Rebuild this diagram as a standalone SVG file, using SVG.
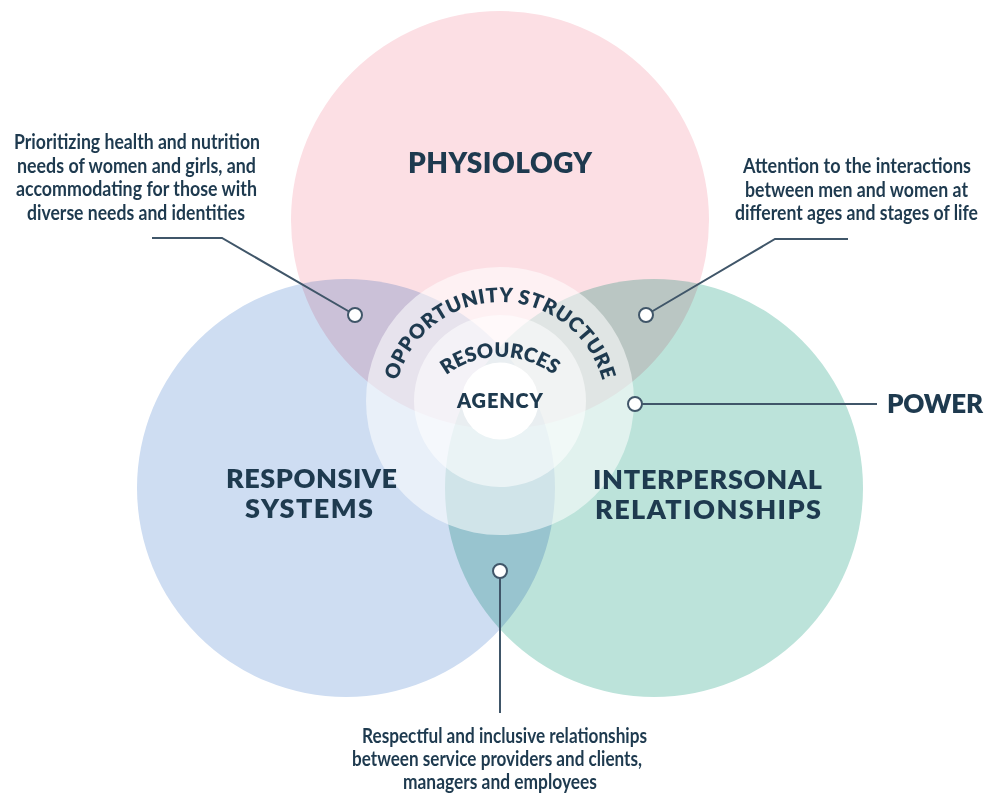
<svg xmlns="http://www.w3.org/2000/svg" width="989" height="795" viewBox="0 0 989 795">
  <style>
    .set { mix-blend-mode: multiply; }
    .title { font-family: Lato, "Noto Sans", sans-serif; font-weight: 800; fill: #1E3A4F; }
    .ring { font-family: Lato, "Noto Sans", sans-serif; font-weight: 800; fill: #1E3A4F; font-size: 20px; }
    .note { font-family: Lato, "Noto Sans", sans-serif; font-weight: 700; fill: #1E3A4F; font-size: 21px; }
    .link { fill: none; stroke: #405669; stroke-width: 2; }
    .dot { fill: #FFFFFF; stroke: #405669; stroke-width: 2; }
    .halo { fill: #FFFFFF; }
  </style>
  <defs>
    <path id="arc-opportunity" d="M 395.6 426.4 A 106 106 0 1 1 604.4 426.4"/>
    <path id="arc-resources" d="M 422.9 401.5 A 89 89 0 0 1 577.1 401.5"/>
  </defs>

  <rect width="989" height="795" fill="#FFFFFF"/>

  <!-- three overlapping domains, blended so the overlaps darken -->
  <g id="domains" style="isolation:isolate">
    <g id="physiology">
      <circle class="set" cx="500" cy="220" r="209" fill="#FCDFE4"/>
    </g>
    <g id="responsive-systems">
      <circle class="set" cx="346" cy="488" r="209" fill="#CEDDF2"/>
    </g>
    <g id="interpersonal-relationships">
      <circle class="set" cx="654" cy="488" r="209" fill="#BCE3DA"/>
    </g>
  </g>

  <!-- concentric core: opportunity structure, resources, agency -->
  <g id="opportunity-structure">
    <circle class="halo" cx="500" cy="401" r="134" fill-opacity="0.55"/>
  </g>
  <g id="resources">
    <circle class="halo" cx="500" cy="401" r="86" fill-opacity="0.55"/>
  </g>
  <g id="agency">
    <circle class="halo" cx="500" cy="401" r="38.5"/>
  </g>

  <!-- leader lines and their end dots -->
  <g id="connectors">
    <polyline class="link" points="152,238 222,238 355,315"/>
    <polyline class="link" points="646,315 775,239 848,239"/>
    <line class="link" x1="635" y1="404" x2="877" y2="404"/>
    <line class="link" x1="500" y1="571" x2="500" y2="713"/>
    <circle class="dot" cx="355" cy="315" r="7"/>
    <circle class="dot" cx="646" cy="315" r="7"/>
    <circle class="dot" cx="635" cy="404" r="7"/>
    <circle class="dot" cx="500" cy="571" r="7"/>
  </g>

  <!-- domain titles -->
  <g id="physiology-label">
    <text class="title" x="408" y="173" font-size="28" textLength="184">PHYSIOLOGY</text>
  </g>
  <g id="responsive-systems-label">
    <text class="title" x="226" y="488" font-size="27" textLength="171">RESPONSIVE</text>
    <text class="title" x="245" y="518" font-size="27" textLength="128">SYSTEMS</text>
  </g>
  <g id="interpersonal-relationships-label">
    <text class="title" x="593" y="489" font-size="27" textLength="229">INTERPERSONAL</text>
    <text class="title" x="595" y="519" font-size="27" textLength="226">RELATIONSHIPS</text>
  </g>
  <g id="power-label">
    <text class="title" x="887" y="413" font-size="26" textLength="96">POWER</text>
  </g>

  <!-- core labels -->
  <g id="core-labels">
    <text class="ring" letter-spacing="0.6"><textPath href="#arc-opportunity" startOffset="50%" text-anchor="middle">OPPORTUNITY STRUCTURE</textPath></text>
    <text class="ring"><textPath href="#arc-resources" startOffset="50%" text-anchor="middle">RESOURCES</textPath></text>
    <text class="ring" x="457" y="408" textLength="86">AGENCY</text>
  </g>

  <!-- annotations -->
  <g id="note-physiology">
    <text class="note" x="14" y="149" textLength="246" lengthAdjust="spacingAndGlyphs">Prioritizing health and nutrition</text>
    <text class="note" x="17" y="172.5" textLength="239" lengthAdjust="spacingAndGlyphs">needs of women and girls, and</text>
    <text class="note" x="16" y="196" textLength="241" lengthAdjust="spacingAndGlyphs">accommodating for those with</text>
    <text class="note" x="27" y="219.5" textLength="218" lengthAdjust="spacingAndGlyphs">diverse needs and identities</text>
  </g>
  <g id="note-interpersonal">
    <text class="note" x="743" y="173" textLength="228" lengthAdjust="spacingAndGlyphs">Attention to the interactions</text>
    <text class="note" x="745" y="196.5" textLength="223" lengthAdjust="spacingAndGlyphs">between men and women at</text>
    <text class="note" x="735" y="220" textLength="243" lengthAdjust="spacingAndGlyphs">different ages and stages of life</text>
  </g>
  <g id="note-systems">
    <text class="note" x="362" y="743" textLength="285" lengthAdjust="spacingAndGlyphs">Respectful and inclusive relationships</text>
    <text class="note" x="352" y="766" textLength="290" lengthAdjust="spacingAndGlyphs">between service providers and clients,</text>
    <text class="note" x="403" y="789" textLength="194" lengthAdjust="spacingAndGlyphs">managers and employees</text>
  </g>
</svg>
